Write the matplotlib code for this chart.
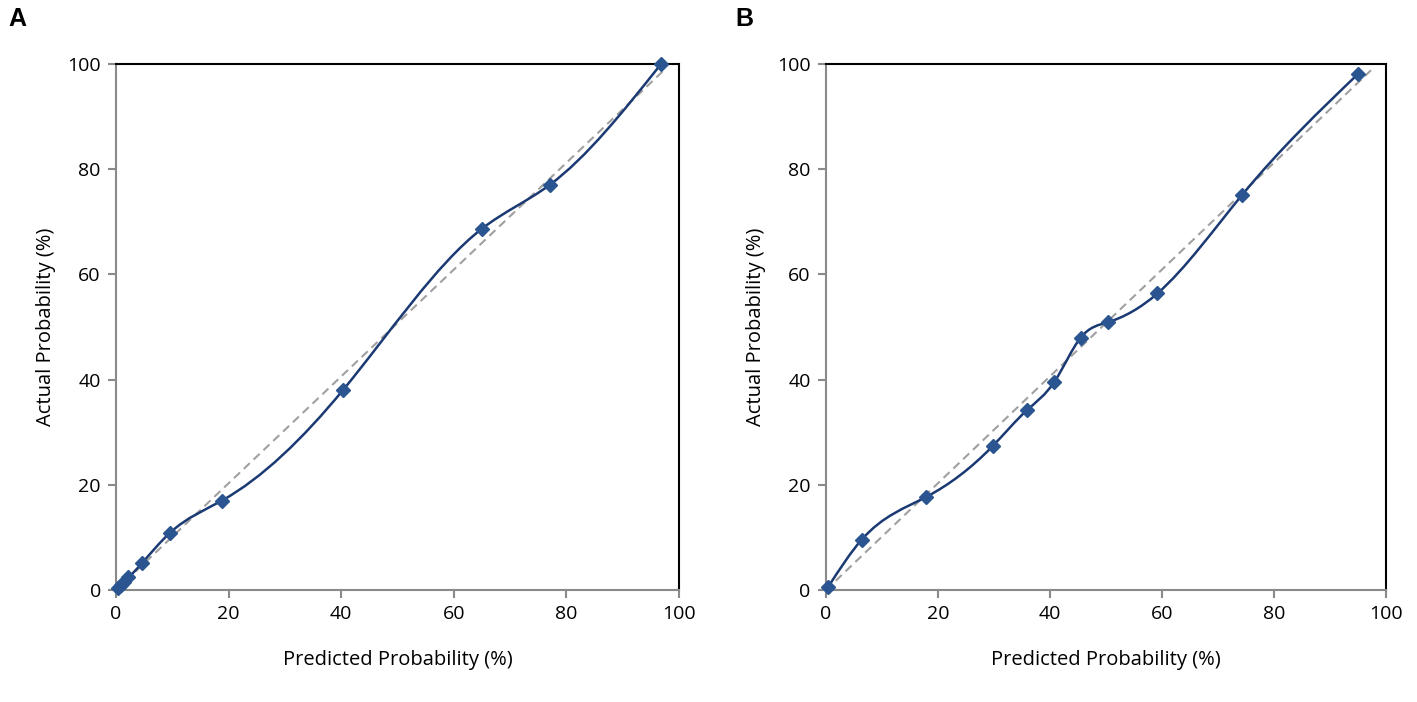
import numpy as np
import matplotlib.pyplot as plt
from matplotlib.path import Path
from matplotlib.patches import PathPatch

plt.rcParams['font.family'] = ['Open Sans', 'DejaVu Sans']

# panel A calibration points (predicted %, actual %)
pred_a = [0.3, 0.8, 1.4, 2.2, 4.6, 9.6, 18.8, 40.3, 65.0, 77.0, 96.8]
act_a = [0.4, 0.9, 1.6, 2.4, 5.1, 10.9, 17.0, 38.0, 68.7, 77.0, 100.0]

# panel B calibration points
pred_b = [0.4, 6.4, 17.9, 29.8, 35.9, 40.8, 45.5, 50.3, 59.2, 74.3, 95.0]
act_b = [0.6, 9.6, 17.7, 27.4, 34.2, 39.6, 48.0, 50.9, 56.4, 75.1, 98.1]

# reference (dashed) line end points as drawn in the original
ref_x = [0, 97.5]
ref_y = [0, 99]

ticks = [0, 20, 40, 60, 80, 100]
line_col = '#1b3a73'
mark_col = '#2a5590'
gray = '#8a8a8a'


def spline_path(xs, ys):
    # natural cubic spline through the points, written as Bezier segments
    x = np.asarray(xs, float)
    y = np.asarray(ys, float)
    n = len(x)
    h = np.diff(x)
    d = np.diff(y) / h
    A = np.zeros((n, n))
    r = np.zeros(n)
    A[0, 0], A[0, 1], r[0] = 2, 1, 3 * d[0]
    A[-1, -2], A[-1, -1], r[-1] = 1, 2, 3 * d[-1]
    for i in range(1, n - 1):
        A[i, i - 1] = h[i]
        A[i, i] = 2 * (h[i - 1] + h[i])
        A[i, i + 1] = h[i - 1]
        r[i] = 3 * (h[i] * d[i - 1] + h[i - 1] * d[i])
    m = np.linalg.solve(A, r)
    verts = [(x[0], y[0])]
    codes = [Path.MOVETO]
    for i in range(n - 1):
        verts += [(x[i] + h[i] / 3, y[i] + m[i] * h[i] / 3),
                  (x[i + 1] - h[i] / 3, y[i + 1] - m[i + 1] * h[i] / 3),
                  (x[i + 1], y[i + 1])]
        codes += [Path.CURVE4] * 3
    return Path(verts, codes)


fig = plt.figure(figsize=(14.17, 7.02), dpi=100)
ax_a = fig.add_axes([0.0819, 0.1595, 0.3973, 0.7493])
ax_b = fig.add_axes([0.5829, 0.1595, 0.3952, 0.7493])

for ax, xs, ys, letter, lx in [(ax_a, pred_a, act_a, 'A', 0.006),
                              (ax_b, pred_b, act_b, 'B', 0.519)]:
    ax.plot(ref_x, ref_y, color='#a0a0a0', lw=1.5,
            ls=(0, (4, 2.5)), zorder=1)
    ax.add_patch(PathPatch(spline_path(xs, ys), facecolor='none',
                           edgecolor=line_col, lw=1.8, zorder=2))
    ax.plot(xs, ys, ls='none', marker='D', ms=7, color=mark_col,
            markeredgecolor=mark_col, zorder=3, clip_on=False)
    ax.set_xlim(0, 100)
    ax.set_ylim(0, 100)
    ax.set_xticks(ticks)
    ax.set_yticks(ticks)
    ax.tick_params(direction='out', length=6, width=1.5, color=gray,
                   labelsize=14, pad=5)
    for side in ['left', 'bottom']:
        ax.spines[side].set_color(gray)
        ax.spines[side].set_linewidth(1.5)
    for side in ['top', 'right']:
        ax.spines[side].set_color('black')
        ax.spines[side].set_linewidth(1.5)
    ax.set_xlabel('Predicted Probability (%)', fontsize=14.5, labelpad=19)
    ax.set_ylabel('Actual Probability (%)', fontsize=14.5, labelpad=8)
    fig.text(lx, 0.99, letter, fontsize=18, fontweight='bold',
             family=['Liberation Sans', 'DejaVu Sans'], va='top', ha='left')

fig.savefig('out.png', dpi=100)
